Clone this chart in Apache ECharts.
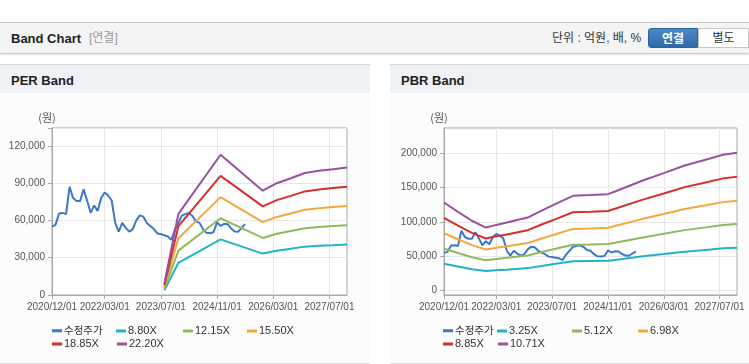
<!DOCTYPE html>
<html><head><meta charset="utf-8">
<script src="https://cdn.jsdelivr.net/npm/echarts@6/dist/echarts.min.js"></script>
<style>
body{margin:0;width:749px;height:364px;overflow:hidden;background:#fff;position:relative;font-family:"Liberation Sans","Noto Sans CJK KR",sans-serif}
.hdr{position:absolute;left:0;top:22px;width:749px;height:30px;background:#f4f4f4;border-top:1px solid #c4c4c4;box-shadow:0 1px 2px rgba(0,0,0,0.28)}
.title{position:absolute;left:11px;top:0;line-height:31px;font-weight:bold;font-size:13px;color:#222}
.sub{position:absolute;left:89px;top:0;line-height:31px;font-size:12px;color:#999}
.unit{position:absolute;left:552px;top:0;line-height:31px;font-size:12px;color:#333}
.b1{position:absolute;left:648px;top:5px;width:50px;height:20px;line-height:20px;text-align:center;background:linear-gradient(#4b88c8,#2f69aa);border:1px solid #2b62a0;border-radius:3px 0 0 3px;color:#fff;font-weight:bold;font-size:12px;box-sizing:border-box}
.b2{position:absolute;left:698px;top:5px;width:51px;height:20px;line-height:18px;text-align:center;background:#fff;border:1px solid #c8c8c8;color:#333;font-size:12px;box-sizing:border-box}
.panel{position:absolute;top:64px;height:298px;background:#fcfcfc;border-top:1px solid #d8d8d8;border-bottom:1px solid #dcdcdc}
.ph{height:28px;background:#eef1f6;font-weight:bold;font-size:13px;color:#222;line-height:31px;padding-left:11px}
#chart{position:absolute;left:0;top:0;width:749px;height:364px}
</style></head>
<body>
<div class="hdr"><span class="title">Band Chart</span><span class="sub">[연결]</span><span class="unit">단위 : 억원, 배, %</span><div class="b1">연결</div><div class="b2">별도</div></div>
<div class="panel" style="left:0;width:370px"><div class="ph">PER Band</div></div>
<div class="panel" style="left:390px;width:359px"><div class="ph">PBR Band</div></div>
<div id="chart"></div>
<script>
// ---- data ----
const tickLabels = ['2020/12/01','2022/03/01','2023/07/01','2024/11/01','2026/03/01','2027/07/01'];
const priceName = '수정주가';
// monthly adjusted price, 2020/12 .. 2025/07
const price = [55000,56400,65500,66000,65000,87000,78000,75500,75500,85000,76000,66000,72000,67500,78000,82500,80000,76000,58000,51000,58000,54000,51000,53000,60000,64000,63000,58000,55500,53000,49500,49000,48000,47000,44500,52500,58000,64000,65000,66000,63500,59000,58000,53000,50000,49700,50500,58500,55500,57200,57000,53500,51000,50800,54000,57000];

const perNames = ['8.80X','12.15X','15.50X','18.85X','22.20X'];
const perBandIdx = [32,36,48,60,64,68,72,76,80,84];
const per880  = [3700,25900,44700,33300,35600,37200,38900,39600,40100,40700];
const per1215 = [5100,35700,61700,45900,49200,51400,53700,54700,55400,56100];
const per1550 = [6500,45600,78700,58600,62800,65600,68500,69800,70700,71600];
const per1885 = [7900,55400,95800,71300,76300,79700,83300,84800,86000,87100];
const per2220 = [9300,65300,112800,83900,89900,93900,98100,99900,101200,102600];

const pbrNames = ['3.25X','5.12X','6.98X','8.85X','10.71X'];
const pbrBandIdx = [0,4,8,12,15,18,24,28,32,37,42,47,49,57,63,69,75,80,84];
const pbr325  = [39000,35300,31300,28600,29600,30400,32800,35900,39000,42700,43100,43500,44700,50000,53200,56700,59300,61500,62400];
const pbr512  = [61200,54800,48600,44300,46200,47700,51200,56200,60800,66700,67200,67900,69700,77400,82700,88000,92000,95500,96800];
const pbr698  = [83500,74700,66200,59800,62500,64500,69300,75900,82000,89800,90500,91400,93900,104400,111300,118700,124000,128700,130800];
const pbr885  = [105800,94700,84000,75800,79200,81800,87900,96200,104000,113900,114800,115900,119000,132300,141200,150500,157200,163200,165700];
const pbr1071 = [128100,114500,101600,91700,95600,99000,106300,116400,126200,137800,138900,140300,144100,160100,170900,182000,190200,197500,200300];

const pbrTicks = [0,50000,100000,150000,200000];
const colors = ['#3a78c9','#22b2c5','#8fba5c','#f4a73c','#d3302c','#98509f'];

// categories: monthly, 2020/12 .. 2027/12
const categories = [];
for (let t = 2020*12+11; t <= 2027*12+11; t++) {
  categories.push(Math.floor(t/12) + '/' + String(t%12+1).padStart(2,'0') + '/01');
}

// ---- chart ----
const fontLat = '"Liberation Sans",sans-serif';
const showTick = (i, v) => tickLabels.indexOf(v) >= 0;
const fmt = v => Number(v).toLocaleString('en-US');

function xAxis(gi) {
  return {
    type:'category', gridIndex:gi, data:categories, boundaryGap:false,
    axisLine:{onZero:false, lineStyle:{color:'#a9a9a9'}},
    axisTick:{show:true, interval:showTick, length:4, lineStyle:{color:'#a9a9a9'}},
    axisLabel:{interval:showTick, margin:7, color:'#555', fontSize:10, fontFamily:fontLat, hideOverlap:false, showMinLabel:true},
    splitLine:{show:true, interval:showTick, lineStyle:{color:'#e6e6e6'}}
  };
}
const bandSeries = (names, idx, arrs, gi) => arrs.map((a, k) => ({
  type:'line', name:names[k], xAxisIndex:gi, yAxisIndex:gi,
  data: idx.map((i, j) => [i, a[j]]),
  showSymbol:false, symbol:'none', lineStyle:{width:2, color:colors[k+1]}, itemStyle:{color:colors[k+1]}
}));
function legends(names, xs, ys) {
  return names.map((n, k) => ({
    data:[n], left:xs[k], top:ys[k], icon:'rect', itemWidth:10, itemHeight:3, itemGap:0, padding:0,
    textStyle:{fontSize:(k === 0 ? 10.5 : 11), color:'#333', padding:[0,0,0,-3], fontFamily:'"Liberation Sans","Noto Sans CJK KR",sans-serif'}
  }));
}

const chart = echarts.init(document.getElementById('chart'), null, {renderer:'canvas'});
chart.setOption({
  animation:false,
  backgroundColor:'transparent',
  color:colors,
  grid:[
    {left:52, top:128, width:295, height:167, show:true, borderColor:'#a9a9a9', borderWidth:1, backgroundColor:'#fff', outerBoundsMode:'none', containLabel:false},
    {left:444, top:128, width:293, height:167, show:true, borderColor:'#a9a9a9', borderWidth:1, backgroundColor:'#fff', outerBoundsMode:'none', containLabel:false}
  ],
  xAxis:[xAxis(0), xAxis(1)],
  yAxis:[
    {type:'value', gridIndex:0, min:0, max:134300, interval:30000,
     name:'(원)', nameLocation:'end', nameGap:5, nameTextStyle:{color:'#555', fontSize:11, padding:[0,10,0,0], fontFamily:'"Noto Sans CJK KR",sans-serif'},
     axisLine:{show:true, lineStyle:{color:'#a9a9a9'}},
     axisTick:{show:true, length:4, lineStyle:{color:'#a9a9a9'}},
     axisLabel:{margin:7, color:'#555', fontSize:10, fontFamily:fontLat, formatter:v => (v % 30000 === 0 ? fmt(v) : '')},
     splitLine:{lineStyle:{color:'#e6e6e6'}}},
    {type:'value', gridIndex:1, min:-6260, max:236400,
     name:'(원)', nameLocation:'end', nameGap:5, nameTextStyle:{color:'#555', fontSize:11, padding:[0,10,0,0], fontFamily:'"Noto Sans CJK KR",sans-serif'},
     axisLine:{show:true, lineStyle:{color:'#a9a9a9'}},
     axisTick:{show:true, length:4, customValues:pbrTicks, lineStyle:{color:'#a9a9a9'}},
     axisLabel:{margin:7, color:'#555', fontSize:10, fontFamily:fontLat, customValues:pbrTicks, formatter:fmt},
     splitLine:{lineStyle:{color:'#e6e6e6'}}}
  ],
  legend: [].concat(
    legends([priceName].concat(perNames), [52,116,183,247,52,117], [325.5,325.5,325.5,325.5,338.5,338.5]),
    legends([priceName].concat(pbrNames), [443,497,572,638,443,498], [325.5,325.5,325.5,325.5,338.5,338.5])
  ),
  series: [
    {type:'line', name:priceName, xAxisIndex:0, yAxisIndex:0, data:price, showSymbol:false, symbol:'none', lineStyle:{width:2, color:colors[0]}, itemStyle:{color:colors[0]}},
    ...bandSeries(perNames, perBandIdx, [per880, per1215, per1550, per1885, per2220], 0),
    {type:'line', name:priceName, xAxisIndex:1, yAxisIndex:1, data:price, showSymbol:false, symbol:'none', lineStyle:{width:2, color:colors[0]}, itemStyle:{color:colors[0]}},
    ...bandSeries(pbrNames, pbrBandIdx, [pbr325, pbr512, pbr698, pbr885, pbr1071], 1)
  ]
});
</script>
</body></html>
